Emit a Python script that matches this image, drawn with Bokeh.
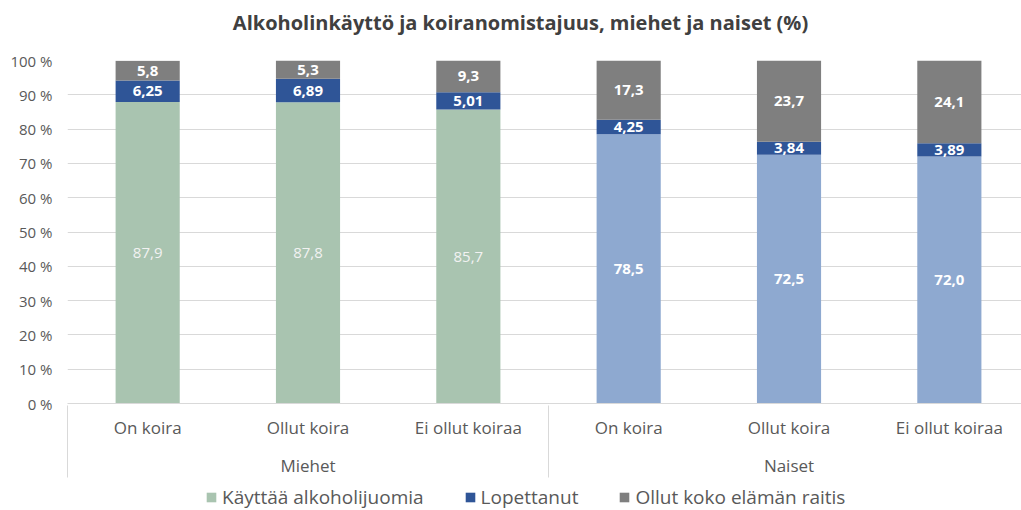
from bokeh.plotting import figure
from bokeh.layouts import column
from bokeh.models import (ColumnDataSource, Range1d, LinearAxis, FixedTicker,
                          Legend, LegendItem, Label)
from bokeh.core.properties import value
from bokeh.embed import file_html
from bokeh.resources import INLINE

# ---- data ----
categories = ["On koira", "Ollut koira", "Ei ollut koiraa",
              "On koira", "Ollut koira", "Ei ollut koiraa"]
groups = ["Miehet", "Naiset"]
kayttaa = [87.9, 87.8, 85.7, 78.5, 72.5, 72.0]
lopettanut = [6.25, 6.89, 5.01, 4.25, 3.84, 3.89]
raitis = [5.8, 5.3, 9.3, 17.3, 23.7, 24.1]
series_names = ["Käyttää alkoholijuomia", "Lopettanut", "Ollut koko elämän raitis"]
y_ticks = [0, 10, 20, 30, 40, 50, 60, 70, 80, 90, 100]
title_text = "Alkoholinkäyttö ja koiranomistajuus, miehet ja naiset (%)"

FONT = "Open Sans"
GREEN = "#A9C4B0"
LBLUE = "#8EA9D0"
DBLUE = "#2F5597"
GRAY = "#7F7F7F"
TXT = "#595959"
WIDTH = 1021

xs = list(range(len(categories)))
b1 = [0.0] * len(xs)
t1 = kayttaa
b2 = t1
t2 = [a + b for a, b in zip(t1, lopettanut)]
b3 = t2
t3 = [a + b for a, b in zip(t2, raitis)]

def fmt(v, d):
    return f"{v:.{d}f}".replace(".", ",")

src = ColumnDataSource(dict(
    x=xs, b1=b1, t1=t1, b2=b2, t2=t2, b3=b3, t3=t3,
    c1=[GREEN] * 3 + [LBLUE] * 3,
    m1=[(a + b) / 2 for a, b in zip(b1, t1)],
    m2=[(a + b) / 2 for a, b in zip(b2, t2)],
    m3=[(a + b) / 2 for a, b in zip(b3, t3)],
    l1=[fmt(v, 1) for v in kayttaa],
    l2=[fmt(v, 2) for v in lopettanut],
    l3=[fmt(v, 1) for v in raitis],
))

# ---- title strip ----
pt = figure(width=WIDTH, height=44, output_backend="svg", toolbar_location=None,
            x_range=Range1d(0, 1), y_range=Range1d(0, 1),
            x_axis_location=None, y_axis_location=None,
            min_border_left=0, min_border_right=0, min_border_top=0, min_border_bottom=0,
            outline_line_color=None)
pt.grid.visible = False
pt.add_layout(Label(x=453, y=22, x_units="screen", y_units="screen", text=title_text,
                    text_align="center", text_baseline="middle", text_font=FONT,
                    text_font_size="20px", text_font_style="bold", text_color="#404040"))

# ---- main chart ----
p = figure(width=WIDTH, height=440, output_backend="svg", toolbar_location=None,
           x_range=Range1d(-0.5, 5.45), y_range=Range1d(0, 100),
           min_border_left=67, min_border_right=0, min_border_top=16,
           min_border_bottom=81, outline_line_color=None)
p.xgrid.visible = False
p.ygrid.grid_line_color = "#D9D9D9"
p.ygrid.ticker = FixedTicker(ticks=y_ticks)

W = 0.4
r1 = p.vbar(x="x", bottom="b1", top="t1", width=W, fill_color="c1", line_color=None, source=src)
r2 = p.vbar(x="x", bottom="b2", top="t2", width=W, fill_color=DBLUE, line_color=None, source=src)
r3 = p.vbar(x="x", bottom="b3", top="t3", width=W, fill_color=GRAY, line_color=None, source=src)

# data labels
men = ColumnDataSource(dict(x=xs[:3], m1=src.data["m1"][:3], l1=src.data["l1"][:3]))
women = ColumnDataSource(dict(x=xs[3:], m1=src.data["m1"][3:], l1=src.data["l1"][3:]))
p.text(x="x", y="m1", text="l1", source=men, text_align="center", text_baseline="middle",
       text_font=value(FONT), text_font_size="15px", text_color="#F2F2F2")
p.text(x="x", y="m1", text="l1", source=women, text_align="center", text_baseline="middle",
       text_font=value(FONT), text_font_size="15px", text_color="white", text_font_style="bold")
for m, l in (("m2", "l2"), ("m3", "l3")):
    p.text(x="x", y=m, text=l, source=src, text_align="center", text_baseline="middle",
           text_font=value(FONT), text_font_size="15px", text_color="white",
           text_font_style="bold")

# y axis
ya = p.yaxis[0]
ya.ticker = FixedTicker(ticks=y_ticks)
ya.major_label_overrides = {t: f"{t} %" for t in y_ticks}
ya.axis_line_color = None
ya.major_tick_line_color = None
ya.minor_tick_line_color = None
ya.major_tick_out = 0
ya.major_tick_in = 0
ya.minor_tick_out = 0
ya.major_label_standoff = 15
ya.major_label_text_font = FONT
ya.major_label_text_font_size = "15px"
ya.major_label_text_color = TXT

# x axis: categories
xa = p.xaxis[0]
xa.ticker = FixedTicker(ticks=xs)
xa.major_label_overrides = {i: c for i, c in enumerate(categories)}
xa.axis_line_color = "#D9D9D9"
xa.major_tick_line_color = None
xa.minor_tick_line_color = None
xa.major_tick_out = 0
xa.major_tick_in = 0
xa.minor_tick_out = 0
xa.major_label_standoff = 12
xa.major_label_text_font = FONT
xa.major_label_text_font_size = "17px"
xa.major_label_text_color = TXT

# x axis: groups (minor ticks draw the group separators)
ga = LinearAxis(ticker=FixedTicker(ticks=[1, 4], minor_ticks=[-0.5, 2.5]),
                major_label_overrides={1: groups[0], 4: groups[1]})
ga.axis_line_color = None
ga.major_tick_line_color = None
ga.major_tick_out = 0
ga.major_tick_in = 0
ga.minor_tick_line_color = "#D9D9D9"
ga.minor_tick_in = 36
ga.minor_tick_out = 36
ga.major_label_standoff = -24
ga.major_label_text_font = FONT
ga.major_label_text_font_size = "17px"
ga.major_label_text_color = TXT
p.add_layout(ga, "below")

# ---- legend strip ----
pl = figure(width=WIDTH, height=26, output_backend="svg", toolbar_location=None,
            x_range=Range1d(-0.5, 5.45), y_range=Range1d(1000, 1001),
            x_axis_location=None, y_axis_location=None,
            min_border_left=0, min_border_right=0, min_border_top=0, min_border_bottom=0,
            outline_line_color=None)
pl.grid.visible = False
swatch_colors = [GREEN, DBLUE, GRAY]
tops = ["t1", "t2", "t3"]
bottoms = ["b1", "b2", "b3"]
rs = [pl.vbar(x="x", bottom=b, top=t, width=W, fill_color=c, line_color=None, source=src)
      for c, t, b in zip(swatch_colors, tops, bottoms)]
legend = Legend(items=[LegendItem(label=n, renderers=[r]) for n, r in zip(series_names, rs)],
                orientation="horizontal", location=(138, 0), padding=0, margin=0,
                glyph_width=12, glyph_height=12, label_standoff=5, spacing=40,
                label_text_font=FONT, label_text_font_size="19px", label_text_color=TXT,
                label_height=26, background_fill_alpha=0, border_line_color=None)
pl.add_layout(legend, "center")

open("out.html", "w").write(file_html(column(pt, p, pl, spacing=0), INLINE))
